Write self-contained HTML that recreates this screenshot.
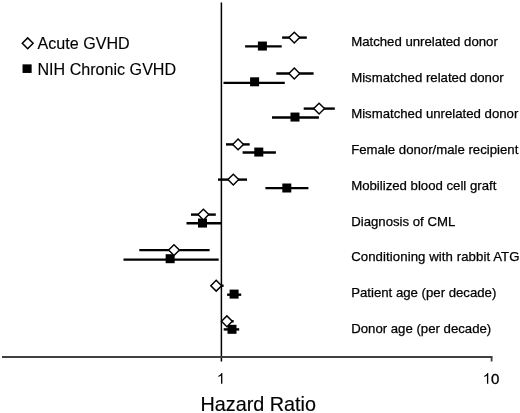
<!DOCTYPE html>
<html><head><meta charset="utf-8"><style>
html,body{margin:0;padding:0;background:#fff;}
svg{display:block;will-change:transform;}
text{font-family:"Liberation Sans",sans-serif;fill:#000;stroke:#000;stroke-width:0.35px;}
</style></head><body>
<svg width="520" height="413" viewBox="0 0 520 413" xmlns="http://www.w3.org/2000/svg">
<rect width="520" height="413" fill="#fff"/>
<line x1="221.4" y1="2.4" x2="221.4" y2="361.5" stroke="#000" stroke-width="1.5"/>
<line x1="2" y1="357.0" x2="492.5" y2="357.0" stroke="#404040" stroke-width="2"/>
<line x1="491.6" y1="357.0" x2="491.6" y2="361.5" stroke="#404040" stroke-width="1.8"/>
<line x1="245.1" y1="46.4" x2="281.7" y2="46.4" stroke="#000" stroke-width="2.4"/>
<rect x="257.90" y="41.55" width="9.0" height="9.0" fill="#000"/>
<line x1="223.5" y1="82.9" x2="284.8" y2="82.9" stroke="#000" stroke-width="2.4"/>
<rect x="250.10" y="77.30" width="9.0" height="9.0" fill="#000"/>
<line x1="272.0" y1="117.5" x2="318.9" y2="117.5" stroke="#000" stroke-width="2.4"/>
<rect x="290.50" y="112.55" width="9.0" height="9.0" fill="#000"/>
<line x1="242.6" y1="152.5" x2="275.9" y2="152.5" stroke="#000" stroke-width="2.4"/>
<rect x="254.30" y="147.55" width="9.0" height="9.0" fill="#000"/>
<line x1="265.4" y1="188.1" x2="308.4" y2="188.1" stroke="#000" stroke-width="2.4"/>
<rect x="282.30" y="183.50" width="9.0" height="9.0" fill="#000"/>
<line x1="186.5" y1="223.3" x2="221.2" y2="223.3" stroke="#000" stroke-width="2.4"/>
<rect x="198.00" y="218.55" width="9.0" height="9.0" fill="#000"/>
<line x1="123.5" y1="259.6" x2="218.7" y2="259.6" stroke="#000" stroke-width="2.4"/>
<rect x="165.65" y="254.20" width="9.0" height="9.0" fill="#000"/>
<line x1="227.1" y1="294.7" x2="241.2" y2="294.7" stroke="#000" stroke-width="2.4"/>
<rect x="229.60" y="289.60" width="9.0" height="9.0" fill="#000"/>
<line x1="223.7" y1="329.4" x2="239.2" y2="329.4" stroke="#000" stroke-width="2.4"/>
<rect x="227.50" y="324.80" width="9.0" height="9.0" fill="#000"/>
<line x1="282.1" y1="37.6" x2="306.8" y2="37.6" stroke="#000" stroke-width="2.4"/>
<path d="M288.90 37.6L294.3 32.20L299.70 37.6L294.3 43.00Z" fill="#fff" stroke="#000" stroke-width="1.45"/>
<line x1="276.3" y1="73.5" x2="313.6" y2="73.5" stroke="#000" stroke-width="2.4"/>
<path d="M288.90 73.5L294.3 68.10L299.70 73.5L294.3 78.90Z" fill="#fff" stroke="#000" stroke-width="1.45"/>
<line x1="303.7" y1="108.6" x2="334.8" y2="108.6" stroke="#000" stroke-width="2.4"/>
<path d="M313.70 108.6L319.1 103.20L324.50 108.6L319.1 114.00Z" fill="#fff" stroke="#000" stroke-width="1.45"/>
<line x1="226.0" y1="144.4" x2="249.7" y2="144.4" stroke="#000" stroke-width="2.4"/>
<path d="M232.70 144.4L238.1 139.00L243.50 144.4L238.1 149.80Z" fill="#fff" stroke="#000" stroke-width="1.45"/>
<line x1="218.0" y1="179.6" x2="247.0" y2="179.6" stroke="#000" stroke-width="2.4"/>
<path d="M227.90 179.6L233.3 174.20L238.70 179.6L233.3 185.00Z" fill="#fff" stroke="#000" stroke-width="1.45"/>
<line x1="191.0" y1="214.6" x2="215.8" y2="214.6" stroke="#000" stroke-width="2.4"/>
<path d="M198.00 214.6L203.4 209.20L208.80 214.6L203.4 220.00Z" fill="#fff" stroke="#000" stroke-width="1.45"/>
<line x1="139.3" y1="250.1" x2="209.6" y2="250.1" stroke="#000" stroke-width="2.4"/>
<path d="M168.60 250.1L174.0 244.70L179.40 250.1L174.0 255.50Z" fill="#fff" stroke="#000" stroke-width="1.45"/>
<line x1="212.0" y1="285.7" x2="223.6" y2="285.7" stroke="#000" stroke-width="2.4"/>
<path d="M210.80 285.7L216.2 280.30L221.60 285.7L216.2 291.10Z" fill="#fff" stroke="#000" stroke-width="1.45"/>
<line x1="221.5" y1="321.3" x2="233.7" y2="321.3" stroke="#000" stroke-width="2.4"/>
<path d="M221.50 321.3L226.9 315.90L232.30 321.3L226.9 326.70Z" fill="#fff" stroke="#000" stroke-width="1.45"/>
<text x="351.2" y="46.20" font-size="13.2" style="stroke-width:0.25px">Matched unrelated donor</text>
<text x="351.2" y="82.06" font-size="13.2" style="stroke-width:0.25px">Mismatched related donor</text>
<text x="351.2" y="117.92" font-size="13.2" style="stroke-width:0.25px">Mismatched unrelated donor</text>
<text x="351.2" y="153.78" font-size="13.2" style="stroke-width:0.25px">Female donor/male recipient</text>
<text x="351.2" y="189.64" font-size="13.2" style="stroke-width:0.25px">Mobilized blood cell graft</text>
<text x="351.2" y="225.50" font-size="13.2" style="stroke-width:0.25px">Diagnosis of CML</text>
<text x="351.2" y="261.36" font-size="13.2" style="stroke-width:0.25px;letter-spacing:0.08px">Conditioning with rabbit ATG</text>
<text x="351.2" y="297.22" font-size="13.2" style="stroke-width:0.25px">Patient age (per decade)</text>
<text x="351.2" y="333.08" font-size="13.2" style="stroke-width:0.25px">Donor age (per decade)</text>
<path d="M22.3 43.3L27.7 37.9L33.1 43.3L27.7 48.7Z" fill="#fff" stroke="#000" stroke-width="1.5"/>
<rect x="22.55" y="64.35" width="9.1" height="8.6" fill="#000"/>
<text x="37.5" y="49.2" font-size="16.1" style="stroke-width:0.12px">Acute GVHD</text>
<text x="37.5" y="75.0" font-size="16.1" style="stroke-width:0.12px">NIH Chronic GVHD</text>
<path transform="translate(216.77 383.8) scale(0.007324 -0.007324)" d="M763 0L583 0L583 1147Q518 1085 412.5 1023Q307 961 223 930L223 1104Q374 1175 487 1276Q600 1377 647 1472L763 1472Z" fill="#000"/>
<path transform="translate(482.67 383.8) scale(0.007324 -0.007324)" d="M763 0L583 0L583 1147Q518 1085 412.5 1023Q307 961 223 930L223 1104Q374 1175 487 1276Q600 1377 647 1472L763 1472Z" fill="#000"/>
<text x="491.01" y="383.8" font-size="15">0</text>
<text x="258.2" y="410.5" font-size="19.8" text-anchor="middle" style="stroke-width:0.15px">Hazard Ratio</text>
</svg>
</body></html>
